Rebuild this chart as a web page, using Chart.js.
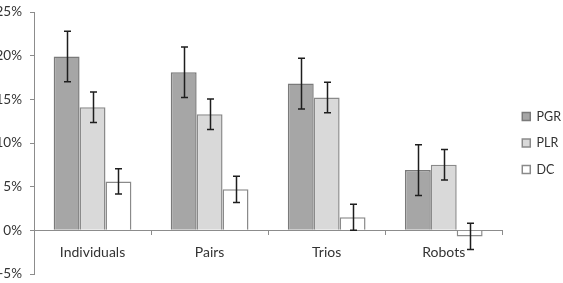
<!DOCTYPE html>
<html>
<head>
<meta charset="utf-8">
<script src="https://cdn.jsdelivr.net/npm/chart.js@4"></script>
<style>
  html, body { margin: 0; padding: 0; background: #fff; overflow: hidden; }
  #wrap { position: relative; width: 563px; height: 283px; overflow: hidden; }
  #chart { position: absolute; left: -6px; top: 0; }
</style>
</head>
<body>
<div id="wrap"><canvas id="chart" width="571" height="283"></canvas></div>
<script>
const categories = ["Individuals", "Pairs", "Trios", "Robots"];
const seriesNames = ["PGR", "PLR", "DC"];

const pgr = [19.9, 18.1, 16.8, 6.9];
const plr = [14.1, 13.3, 15.2, 7.5];
const dc = [5.6, 4.7, 1.5, -0.7];

const pgrErr = [2.9, 2.9, 2.9, 2.9];
const plrErr = [1.75, 1.75, 1.75, 1.75];
const dcErr = [1.45, 1.5, 1.5, 1.5];

const yTicks = [-5, 0, 5, 10, 15, 20, 25];

const textColor = "#333333";
const axisColor = "#8c8c8c";

// draws the +/- error whiskers on top of each bar
const errorBars = {
  id: "errorBars",
  afterDatasetsDraw(chart) {
    const ctx = chart.ctx;
    const y = chart.scales.y;
    ctx.save();
    ctx.strokeStyle = "#1e1e1e";
    ctx.lineWidth = 1.5;
    chart.data.datasets.forEach((ds, i) => {
      const meta = chart.getDatasetMeta(i);
      meta.data.forEach((bar, j) => {
        const v = ds.data[j];
        const e = ds.errors[j];
        const top = y.getPixelForValue(v + e);
        const bot = y.getPixelForValue(v - e);
        const x = Math.round(bar.x) + 0.5;
        ctx.beginPath();
        ctx.moveTo(x, top);
        ctx.lineTo(x, bot);
        ctx.moveTo(x - 3.5, top);
        ctx.lineTo(x + 3.5, top);
        ctx.moveTo(x - 3.5, bot);
        ctx.lineTo(x + 3.5, bot);
        ctx.stroke();
      });
    });
    ctx.restore();
  }
};

// push the legend a little further from the plot, like the original
const legendGap = {
  id: "legendGap",
  afterLayout(chart) {
    if (chart.legend) {
      chart.legend.left += 6;
      chart.legend.right += 6;
    }
  }
};

new Chart(document.getElementById("chart"), {
  type: "bar",
  data: {
    labels: categories,
    datasets: [
      {
        label: seriesNames[0],
        data: pgr,
        errors: pgrErr,
        backgroundColor: "#a6a6a6",
        borderColor: "#7a7a7a",
        borderWidth: 1.5
      },
      {
        label: seriesNames[1],
        data: plr,
        errors: plrErr,
        backgroundColor: "#d9d9d9",
        borderColor: "#8a8a8a",
        borderWidth: 1.5
      },
      {
        label: seriesNames[2],
        data: dc,
        errors: dcErr,
        backgroundColor: "#ffffff",
        borderColor: "#8a8a8a",
        borderWidth: 1.5
      }
    ]
  },
  options: {
    responsive: false,
    animation: false,
    layout: { padding: { top: 12, bottom: 9, left: 0, right: 0 } },
    datasets: {
      bar: { barPercentage: 1, categoryPercentage: 0.664 }
    },
    plugins: {
      tooltip: { enabled: false },
      legend: {
        position: "right",
        labels: {
          boxWidth: 8,
          boxHeight: 8,
          padding: 14,
          color: textColor,
          font: { family: "Lato", size: 12.5 }
        }
      }
    },
    scales: {
      x: {
        position: { y: 0 },
        grid: {
          drawOnChartArea: false,
          drawTicks: true,
          tickLength: 4,
          color: axisColor
        },
        border: { color: axisColor, width: 1 },
        ticks: {
          padding: 10,
          color: textColor,
          font: { family: "Lato", size: 14 }
        }
      },
      y: {
        min: yTicks[0],
        max: yTicks[yTicks.length - 1],
        afterBuildTicks: (scale) => {
          scale.ticks = yTicks.map((v) => ({ value: v }));
        },
        afterFit: (scale) => {
          scale.width = 40;
          scale.paddingTop = 0;
          scale.paddingBottom = 0;
        },
        grid: {
          drawOnChartArea: false,
          drawTicks: true,
          tickLength: 4,
          color: axisColor
        },
        border: { color: axisColor, width: 1 },
        ticks: {
          padding: 8,
          color: textColor,
          font: { family: "Lato", size: 13.5 },
          callback: (v) => v + "%"
        }
      }
    }
  },
  plugins: [errorBars, legendGap]
});
</script>
</body>
</html>
